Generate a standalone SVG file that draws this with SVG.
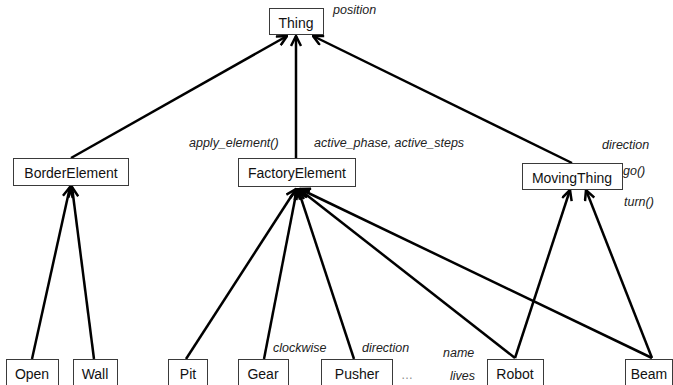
<svg xmlns="http://www.w3.org/2000/svg" width="673" height="385" viewBox="0 0 673 385">
<style>
.box{fill:#fff;stroke:#3a3a3a;stroke-width:1}
.lbl{font-family:"Liberation Sans",Arial,sans-serif;font-size:14px;fill:#111;text-anchor:middle}
.it{font-family:"Liberation Sans",Arial,sans-serif;font-size:12.5px;font-style:italic;fill:#222}
.con{stroke:#000;stroke-width:2.5;fill:none;marker-end:url(#arr)}
</style>
<defs>
<marker id="arr" viewBox="0 0 12 12" refX="11" refY="6" markerWidth="12" markerHeight="12" markerUnits="userSpaceOnUse" orient="auto">
<path d="M1,1 L11,6 L1,11" fill="none" stroke="#000" stroke-width="2.5"/>
</marker>
</defs>
<rect width="673" height="385" fill="#fff"/>
<g id="connectors">
<line class="con" x1="71" y1="158" x2="287" y2="36"/>
<line class="con" x1="296" y1="158" x2="296" y2="36"/>
<line class="con" x1="572" y1="163" x2="313" y2="36"/>
<line class="con" x1="32" y1="359" x2="70" y2="187"/>
<line class="con" x1="94" y1="359" x2="72" y2="187"/>
<line class="con" x1="186" y1="359" x2="296" y2="189"/>
<line class="con" x1="264" y1="359" x2="297" y2="189"/>
<line class="con" x1="354" y1="359" x2="298" y2="189"/>
<line class="con" x1="515" y1="358" x2="299" y2="189"/>
<line class="con" x1="652" y1="358" x2="300" y2="189"/>
<line class="con" x1="515" y1="358" x2="570" y2="190"/>
<line class="con" x1="652" y1="358" x2="586" y2="190"/>
</g>
<g id="thing">
<rect class="box" x="269.5" y="8.5" width="54" height="26"/>
<text class="lbl" x="296" y="28">Thing</text>
<text class="it" x="333" y="14">position</text>
</g>
<g id="borderelement">
<rect class="box" x="13.5" y="158.5" width="115" height="27"/>
<text class="lbl" x="71" y="178">BorderElement</text>
</g>
<g id="factoryelement">
<rect class="box" x="238.5" y="158.5" width="117" height="28"/>
<text class="lbl" x="297" y="178">FactoryElement</text>
<text class="it" x="189" y="147">apply_element()</text>
<text class="it" x="314" y="147">active_phase, active_steps</text>
</g>
<g id="movingthing">
<rect class="box" x="522.5" y="163.5" width="100" height="26"/>
<text class="lbl" x="572" y="183">MovingThing</text>
<text class="it" x="602" y="149">direction</text>
<text class="it" x="623" y="175">go()</text>
<text class="it" x="624" y="206">turn()</text>
</g>
<g id="open">
<rect class="box" x="6.5" y="359.5" width="52" height="40"/>
<text class="lbl" x="32" y="379">Open</text>
</g>
<g id="wall">
<rect class="box" x="73.5" y="359.5" width="44" height="40"/>
<text class="lbl" x="95" y="379">Wall</text>
</g>
<g id="pit">
<rect class="box" x="168.5" y="359.5" width="39" height="40"/>
<text class="lbl" x="188" y="379">Pit</text>
</g>
<g id="gear">
<rect class="box" x="238.5" y="359.5" width="50" height="40"/>
<text class="lbl" x="263" y="379">Gear</text>
<text class="it" x="273" y="352">clockwise</text>
</g>
<g id="pusher">
<rect class="box" x="321.5" y="359.5" width="71" height="40"/>
<text class="lbl" x="357" y="379">Pusher</text>
<text class="it" x="362" y="352">direction</text>
</g>
<g id="more">
<text x="401" y="379" font-family="Liberation Sans, Arial, sans-serif" font-size="12" fill="#888">…</text>
</g>
<g id="robot">
<rect class="box" x="487.5" y="359.5" width="56" height="40"/>
<text class="lbl" x="515" y="379">Robot</text>
<text class="it" x="443" y="357">name</text>
<text class="it" x="450" y="380">lives</text>
</g>
<g id="beam">
<rect class="box" x="625.5" y="359.5" width="47" height="40"/>
<text class="lbl" x="649" y="379">Beam</text>
</g>
</svg>
